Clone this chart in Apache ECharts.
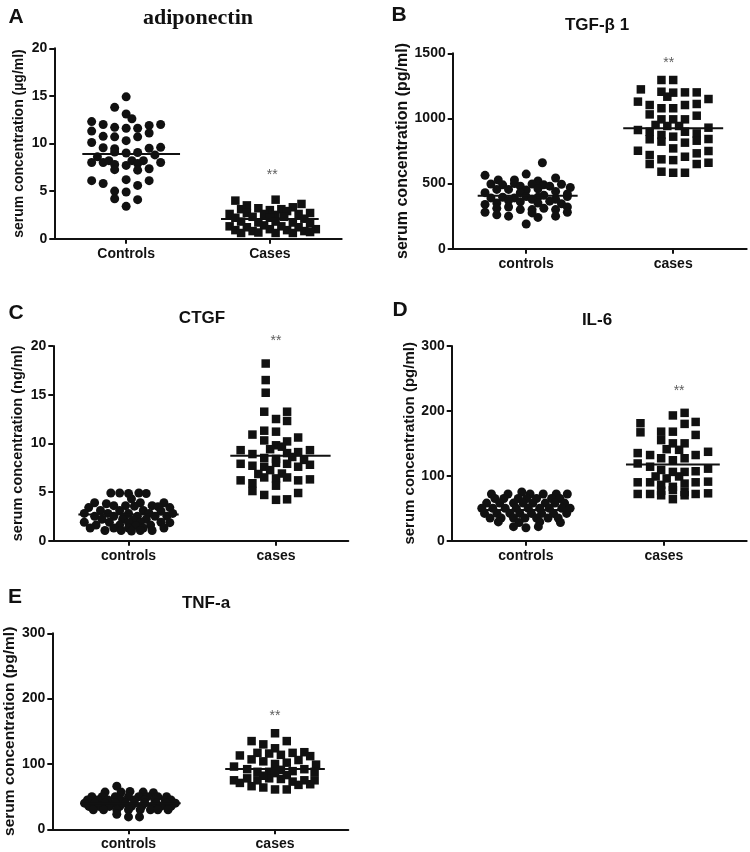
<!DOCTYPE html>
<html><head><meta charset="utf-8">
<script src="https://cdn.jsdelivr.net/npm/echarts@6/dist/echarts.min.js"></script>
<style>html,body{margin:0;padding:0;background:#fff}#c{width:750px;height:852px}</style>
</head><body><div id="c"></div><script>
// ---------- data ----------
const panelLetters = ['A','B','C','D','E'];
const panelTitles = ['adiponectin','TGF-\u03b2 1','CTGF','IL-6','TNF-a'];
const groupLabelsA = ['Controls','Cases'];
const groupLabels = ['controls','cases'];
const yNames = ['serum concentration (\u00b5g/ml)','serum concentration (pg/ml)','serum concentration (ng/ml)','serum concentration (pg/ml)','serum concentration (pg/ml)'];
const yMax = [20,1500,20,300,300];
const yStep = [5,500,5,100,100];
// [horizontal jitter within group, value]
const adipoControls = [[0,14.9],[-0.08,13.8],[0,13.1],[0.04,12.6],[-0.24,12.3],[-0.16,12.0],[-0.08,11.7],[0,11.6],[0.08,11.6],[0.16,11.9],[0.24,12.0],[-0.24,11.3],[-0.16,10.75],[-0.08,10.7],[0.08,10.7],[0.16,11.1],[0,10.3],[-0.24,10.1],[-0.16,9.55],[-0.08,9.45],[0.16,9.5],[0.24,9.6],[-0.08,9.1],[0,9.0],[0.08,9.05],[-0.2,8.6],[0.2,8.8],[-0.24,8.0],[-0.16,8.0],[-0.12,8.2],[-0.08,7.8],[0,7.7],[0.04,8.2],[0.08,7.9],[0.12,8.2],[0.16,7.35],[0.24,8.0],[-0.08,7.25],[0.08,7.2],[-0.24,6.1],[-0.16,5.8],[0,6.2],[0.08,5.6],[0.16,6.1],[-0.08,5.0],[0,4.9],[-0.08,4.2],[0.08,4.1],[0,3.4]];
const adipoCases = [[-0.24,4.0],[0.04,4.1],[-0.16,3.5],[0.22,3.65],[0.16,3.3],[-0.2,3.1],[-0.08,3.2],[0,3.0],[0.08,3.1],[0.12,2.9],[-0.28,2.6],[-0.16,2.7],[-0.04,2.6],[0.04,2.5],[0.2,2.6],[0.28,2.7],[-0.24,2.2],[-0.12,2.3],[0,2.2],[0.1,2.3],[0.24,2.1],[-0.2,1.8],[-0.08,1.7],[0.04,1.8],[0.16,1.7],[0.28,1.6],[-0.28,1.3],[-0.16,1.2],[-0.04,1.4],[0.08,1.3],[0.2,1.2],[-0.24,0.9],[-0.12,0.8],[0,1.0],[0.12,0.9],[0.24,0.8],[0.32,1.0],[-0.2,0.6],[-0.08,0.65],[0.04,0.6],[0.16,0.6],[0.28,0.7]];
const tgfControls = [[0.11,660],[-0.28,563],[0,573],[0.2,543],[-0.19,527],[-0.08,527],[0.08,520],[-0.24,497],[-0.16,490],[-0.08,500],[-0.04,480],[0.04,497],[0.12,490],[0.24,495],[0.3,470],[0.16,480],[-0.28,430],[-0.2,455],[-0.12,455],[0,450],[0.08,460],[0.2,440],[0.28,420],[-0.04,430],[-0.24,390],[-0.16,395],[-0.08,390],[0,400],[0.08,395],[0.12,410],[0.2,380],[0.28,400],[0.04,380],[-0.12,370],[-0.28,340],[-0.2,350],[-0.04,360],[0.08,350],[0.24,345],[0.16,365],[-0.2,310],[-0.12,320],[-0.04,300],[0.04,300],[0.12,310],[0.2,300],[0.28,320],[-0.28,280],[-0.2,260],[-0.12,250],[0.04,275],[0.08,240],[0.2,250],[0.28,280],[0,190]];
const tgfCases = [[-0.08,1295],[0,1295],[-0.22,1223],[-0.08,1205],[-0.04,1167],[0,1198],[0.08,1200],[0.16,1200],[-0.24,1129],[-0.16,1103],[-0.08,1078],[0,1078],[0.08,1103],[0.16,1111],[0.24,1149],[-0.16,1031],[-0.08,993],[0,993],[0.08,993],[0.16,1021],[-0.12,950],[-0.04,942],[0.04,942],[-0.24,911],[-0.16,898],[-0.08,873],[0,860],[0.08,898],[0.16,885],[0.24,929],[0.24,842],[-0.16,840],[-0.08,822],[0.08,814],[0.16,829],[0,770],[-0.24,752],[0.24,750],[-0.16,719],[-0.08,686],[0.08,706],[0.16,732],[-0.16,650],[0,680],[0.16,650],[0.24,660],[-0.08,591],[0,583],[0.08,583]];
const ctgfControls = [[-0.12,4.9],[-0.06,4.9],[0,4.85],[0.07,4.9],[0.12,4.85],[0.02,4.3],[-0.23,3.9],[-0.15,3.8],[0.08,3.9],[0.24,3.9],[-0.1,3.6],[-0.02,3.6],[0.04,3.55],[0.16,3.6],[0.2,3.5],[-0.27,3.4],[0.28,3.4],[-0.19,3.1],[-0.06,3.1],[0.1,3.1],[0.22,3.05],[-0.3,2.8],[-0.14,2.8],[0,2.8],[0.14,2.8],[0.3,2.8],[-0.23,2.5],[-0.1,2.5],[-0.03,2.45],[0.06,2.5],[0.18,2.5],[0.26,2.5],[-0.18,2.2],[-0.04,2.2],[0.03,2.15],[0.12,2.2],[-0.3,1.9],[-0.13,1.9],[0,1.85],[0.08,1.9],[0.22,1.9],[0.28,1.85],[-0.22,1.6],[-0.06,1.6],[0.05,1.55],[0.15,1.6],[-0.26,1.3],[-0.1,1.3],[0,1.3],[0.1,1.3],[0.24,1.3],[-0.16,1.05],[-0.05,1.05],[0.02,1.0],[0.08,1.05],[0.16,1.05]];
const ctgfCases = [[-0.07,18.2],[-0.07,16.5],[-0.07,15.2],[-0.08,13.25],[0.075,13.25],[0,12.5],[0.075,12.3],[-0.08,11.3],[0,11.2],[-0.16,10.9],[0.15,10.6],[-0.08,10.3],[0.075,10.2],[0,9.8],[0.04,9.66],[-0.24,9.3],[0.23,9.3],[-0.04,9.4],[0.15,9.1],[-0.16,8.9],[0.075,9.0],[-0.08,8.5],[0,8.4],[0.11,8.6],[-0.24,7.9],[-0.16,7.7],[-0.08,7.6],[0,8.0],[0.075,7.9],[0.15,7.6],[0.23,7.8],[0.19,8.3],[-0.12,6.85],[-0.04,7.25],[0.04,6.9],[-0.24,6.2],[-0.16,5.9],[-0.08,6.5],[0,6.4],[0.075,6.5],[0.15,6.2],[0.23,6.3],[-0.16,5.1],[-0.08,4.7],[0,5.65],[0.15,4.9],[0,4.2],[0.075,4.25]];
const il6Controls = [[-0.25,72],[-0.13,72],[0.03,72],[0.125,72],[0.22,72],[0.3,72],[-0.03,75],[-0.225,65],[-0.16,65],[-0.056,65],[0.005,65],[0.077,65],[0.186,65],[0.246,65],[-0.285,58],[-0.19,58],[-0.09,58],[-0.02,58],[0.05,58],[0.14,58],[0.21,58],[0.28,58],[-0.32,50],[-0.24,50],[-0.15,50],[-0.07,50],[0.017,50],[0.1,50],[0.17,50],[0.26,50],[0.32,50],[-0.3,42],[-0.21,42],[-0.116,42],[-0.044,42],[0.04,42],[0.114,42],[0.2,42],[0.295,42],[-0.26,35],[-0.18,35],[-0.09,35],[-0.007,35],[0.077,35],[0.16,35],[0.234,35],[-0.2,29],[-0.05,28],[0.1,29],[0.25,28],[-0.09,21.6],[0,20],[0.09,21.6]];
const il6Cases = [[0.15,197],[0.065,193],[0.23,183],[0.15,180],[-0.17,181],[-0.17,167],[-0.02,168],[0.065,168],[0.23,163],[-0.02,155],[0.065,150],[0.15,150],[0.02,141],[0.11,140],[-0.19,135],[-0.1,132],[0.32,137],[0.23,132],[-0.02,127],[0.065,124],[0.15,127],[-0.19,119],[-0.1,114],[-0.02,109],[0.065,106],[0.15,106],[0.23,107],[0.32,111],[-0.06,99],[0.02,96],[0.11,99],[-0.19,90],[-0.1,90],[-0.02,86],[0.065,83],[0.15,88],[0.23,90],[0.32,91],[-0.02,77],[0.065,78],[-0.19,72],[-0.1,72],[-0.02,70],[0.15,70],[0.23,72],[0.32,73],[0.065,64],[0.15,75]];
const tnfControls = [[-0.08,66],[-0.16,57],[-0.05,57],[0.01,58],[0.1,57],[0.17,56],[-0.25,50],[-0.18,50],[-0.09,50],[0,50],[0.07,50],[0.13,50],[0.2,50],[0.26,50],[-0.28,45],[-0.21,45],[-0.14,45],[-0.05,45],[0.04,45],[0.11,45],[0.18,45],[0.25,45],[0.29,45],[-0.3,40],[-0.23,40],[-0.16,40],[-0.09,40],[-0.02,40],[0.04,40],[0.11,40],[0.19,40],[0.26,40],[0.32,40],[-0.27,35],[-0.2,35],[-0.13,35],[-0.06,35],[0.02,35],[0.09,35],[0.16,35],[0.22,35],[0.29,35],[-0.24,30],[-0.17,30],[-0.08,30],[0,30],[0.08,30],[0.15,30],[0.2,30],[0.27,30],[-0.08,23],[0,19],[0.075,19]];
const tnfCases = [[0,147],[-0.16,135],[0.08,135],[-0.08,130],[0,124],[-0.24,113],[-0.16,107],[-0.12,117],[-0.04,116],[0.04,114],[0.12,117],[0.2,118],[0.24,112],[0.16,106],[-0.08,104],[0.08,102],[0,100],[0.28,99],[-0.28,96],[-0.19,92],[-0.12,88],[-0.04,88],[0.04,91],[0.12,89],[0.2,92],[0.27,88],[-0.28,75],[-0.19,78],[-0.12,75],[-0.04,78],[0.04,77],[0.12,73],[0.2,75],[0.27,75],[-0.24,71],[-0.16,66],[-0.08,64],[0,61],[0.08,61],[0.16,68],[0.24,69],[-0.08,82],[0.08,83],[0,86]];
const controlsData = [adipoControls, tgfControls, ctgfControls, il6Controls, tnfControls];
const casesData = [adipoCases, tgfCases, ctgfCases, il6Cases, tnfCases];
// group means [controls, cases]
const means = [[8.9,2.07],[407,924],[2.7,8.73],[47.3,117.6],[39.8,92.3]];
// horizontal centre of each mean line relative to its group
const meanCentres = [[0.035,0],[0.01,0],[0,0.03],[0,0.065],[0.016,0]];
// "**" significance marks [x offset from cases, value]
const starMarks = [[0.017,7.0],[-0.03,1448],[0,20.8],[0.11,234.8],[0,178.5]];

// ---------- layout ----------
const grids = [[54.3,48.3,287.4,190.4],[452.7,53.3,294,195.4],[53.3,346,295,194.7],[451.7,346,295,194.7],[52.3,633.3,296,196]];
const xRanges = [[0.5,2.5],[0.5,2.5],[0.49,2.49],[0.462,2.6],[0.48,2.5]];
const nameGaps = [28,42,28,34,27];
const nameSizes = [14,16,14.5,15,15.5];
const titlePos = [[198,18],[597,25],[202,318],[597,320],[206,603]];
const letterPos = [[16,17],[399,15],[16,313],[400,310],[15,597]];
const FONT = 'Liberation Sans, Arial, Helvetica, sans-serif';
const INK = '#111111';

const option = {backgroundColor:'#fff', animation:false, grid:[], xAxis:[], yAxis:[], series:[], graphic:[]};
for (let i=0;i<5;i++){
  const g = grids[i];
  option.grid.push({left:g[0], top:g[1], width:g[2], height:g[3], containLabel:false});
  const labels = i===0 ? groupLabelsA : groupLabels;
  option.xAxis.push({type:'value', gridIndex:i, min:xRanges[i][0], max:xRanges[i][1],
    axisLine:{show:true, onZero:false, lineStyle:{color:INK, width:2}},
    axisTick:{show:true, customValues:[1,2], length:5, lineStyle:{color:INK, width:2}},
    axisLabel:{show:true, customValues:[1,2], margin:8, fontFamily:FONT, fontWeight:'bold', fontSize:14, color:INK,
      formatter:(v)=>labels[Math.round(v)-1]},
    splitLine:{show:false}});
  option.yAxis.push({type:'value', gridIndex:i, min:0, max:yMax[i], interval:yStep[i],
    name:yNames[i], nameLocation:'middle', nameRotate:90, nameGap:nameGaps[i],
    nameTextStyle:{fontFamily:FONT, fontWeight:'bold', fontSize:nameSizes[i], color:INK},
    axisLine:{show:true, lineStyle:{color:INK, width:2}},
    axisTick:{show:true, length:5, lineStyle:{color:INK, width:2}},
    axisLabel:{margin:7, fontFamily:FONT, fontWeight:'bold', fontSize:14, color:INK, formatter:(v)=>String(v)},
    splitLine:{show:false}});
  option.series.push({type:'scatter', xAxisIndex:i, yAxisIndex:i, symbol:'circle', symbolSize:9,
    itemStyle:{color:INK, opacity:1}, data:controlsData[i].map(d=>[1+d[0], d[1]]), z:2});
  option.series.push({type:'scatter', xAxisIndex:i, yAxisIndex:i, symbol:'rect', symbolSize:8.5,
    itemStyle:{color:INK, opacity:1}, data:casesData[i].map(d=>[2+d[0], d[1]]), z:2});
  for (let k=0;k<2;k++){
    const c = 1+k+meanCentres[i][k];
    option.series.push({type:'line', xAxisIndex:i, yAxisIndex:i, symbol:'none', silent:true,
      lineStyle:{color:INK, width:2}, data:[[c-0.34, means[i][k]],[c+0.34, means[i][k]]], z:5});
  }
  option.series.push({type:'scatter', xAxisIndex:i, yAxisIndex:i, symbolSize:2, clip:false, silent:true,
    itemStyle:{color:'rgba(0,0,0,0)'}, data:[[2+starMarks[i][0], starMarks[i][1]]],
    label:{show:true, position:'inside', formatter:'**', fontFamily:FONT, fontSize:14, color:'#333', offset:[0,3]}, z:6});
  option.graphic.push({type:'text', x:titlePos[i][0], y:titlePos[i][1], style:{text:panelTitles[i],
    font: i===0 ? 'bold 22px "Liberation Serif", "Times New Roman", serif' : 'bold 17px '+FONT,
    fill:INK, align:'center', verticalAlign:'middle'}});
  option.graphic.push({type:'text', x:letterPos[i][0], y:letterPos[i][1], style:{text:panelLetters[i],
    font:'bold 21px '+FONT, fill:INK, align:'center', verticalAlign:'middle'}});
}
const chart = echarts.init(document.getElementById('c'), null, {renderer:'canvas'});
chart.setOption(option);
</script></body></html>
